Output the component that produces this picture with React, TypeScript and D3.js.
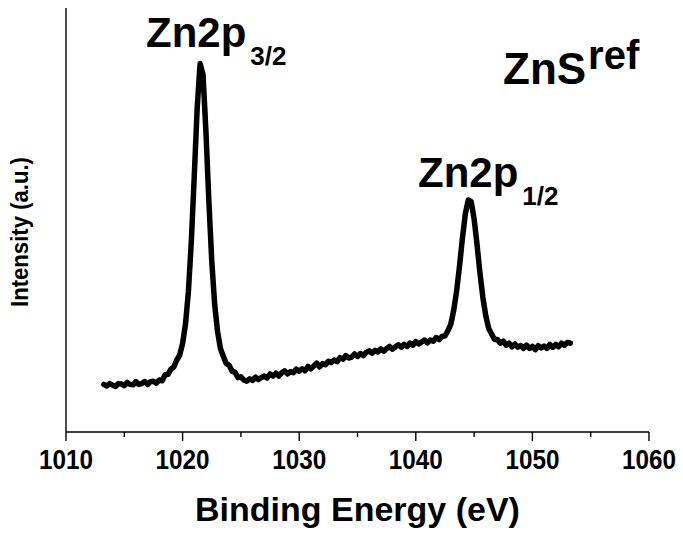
import React from 'react';
import * as d3 from 'd3';

// Binding energy grid (eV)
const energy = [
  1013.25, 1013.5, 1013.75, 1014, 1014.25, 1014.5, 1014.75, 1015, 1015.25, 1015.5,
  1015.75, 1016, 1016.25, 1016.5, 1016.75, 1017, 1017.25, 1017.5, 1017.75, 1018,
  1018.25, 1018.5, 1018.75, 1019, 1019.25, 1019.5, 1019.75, 1020, 1020.25, 1020.5,
  1020.75, 1021, 1021.25, 1021.5, 1021.75, 1022, 1022.25, 1022.5, 1022.75, 1023,
  1023.25, 1023.5, 1023.75, 1024, 1024.25, 1024.5, 1024.75, 1025, 1025.25, 1025.5,
  1025.75, 1026, 1026.25, 1026.5, 1026.75, 1027, 1027.25, 1027.5, 1027.75, 1028,
  1028.25, 1028.5, 1028.75, 1029, 1029.25, 1029.5, 1029.75, 1030, 1030.25, 1030.5,
  1030.75, 1031, 1031.25, 1031.5, 1031.75, 1032, 1032.25, 1032.5, 1032.75, 1033,
  1033.25, 1033.5, 1033.75, 1034, 1034.25, 1034.5, 1034.75, 1035, 1035.25, 1035.5,
  1035.75, 1036, 1036.25, 1036.5, 1036.75, 1037, 1037.25, 1037.5, 1037.75, 1038,
  1038.25, 1038.5, 1038.75, 1039, 1039.25, 1039.5, 1039.75, 1040, 1040.25, 1040.5,
  1040.75, 1041, 1041.25, 1041.5, 1041.75, 1042, 1042.25, 1042.5, 1042.75, 1043,
  1043.25, 1043.5, 1043.75, 1044, 1044.25, 1044.5, 1044.75, 1045, 1045.25, 1045.5,
  1045.75, 1046, 1046.25, 1046.5, 1046.75, 1047, 1047.25, 1047.5, 1047.75, 1048,
  1048.25, 1048.5, 1048.75, 1049, 1049.25, 1049.5, 1049.75, 1050, 1050.25, 1050.5,
  1050.75, 1051, 1051.25, 1051.5, 1051.75, 1052, 1052.25, 1052.5, 1052.75, 1053,
  1053.25,
];

// Intensity (a.u.)
const intensity = [
  119, 115, 121, 117, 114, 121, 120, 116, 124, 119,
  118, 126, 119, 121, 126, 119, 126, 127, 122, 130,
  128, 143, 144, 157, 163, 180, 192, 221, 270, 352,
  477, 640, 809, 921, 894, 752, 579, 428, 319, 251,
  208, 189, 171, 166, 152, 149, 136, 138, 130, 127,
  133, 129, 137, 131, 136, 140, 135, 145, 140, 147,
  140, 148, 153, 145, 151, 148, 157, 152, 158, 153,
  164, 158, 165, 172, 163, 171, 168, 177, 174, 180,
  176, 186, 182, 191, 185, 187, 195, 189, 196, 191,
  199, 203, 197, 204, 200, 208, 202, 209, 214, 207,
  213, 218, 212, 219, 214, 222, 217, 226, 220, 225,
  230, 223, 230, 227, 236, 231, 239, 240, 253, 269,
  304, 352, 415, 485, 546, 580, 576, 533, 469, 398,
  337, 291, 259, 245, 231, 231, 222, 227, 217, 222,
  213, 220, 212, 216, 209, 217, 209, 214, 206, 216,
  210, 215, 209, 219, 212, 219, 213, 222, 217, 224,
  222,
];

const xTicks = [1010, 1020, 1030, 1040, 1050, 1060];
const xMinorTicks = [1015, 1025, 1035, 1045, 1055];
const xDomain: [number, number] = [1010, 1060];
const yDomain: [number, number] = [0, 1060];

const FONT = "'Liberation Sans', Arial, Helvetica, sans-serif";

export default function App() {
  const W = 683;
  const H = 533;
  const left = 66;
  const right = 649;
  const top = 8;
  const bottom = 432;

  const x = d3.scaleLinear().domain(xDomain).range([left, right]);
  const y = d3.scaleLinear().domain(yDomain).range([bottom, top]);

  const line = d3
    .line<number>()
    .x((_, i) => x(energy[i]))
    .y((d) => y(d))
    .curve(d3.curveLinear);
  const path = line(intensity) || '';

  return (
    <svg
      width={W}
      height={H}
      viewBox={`0 0 ${W} ${H}`}
      style={{ position: 'absolute', left: 0, top: 0, background: '#fff' }}
    >
      <rect x={0} y={0} width={W} height={H} fill="#fff" />
      {/* axes */}
      <line x1={left} y1={top} x2={left} y2={bottom} stroke="#000" strokeWidth={1.4} />
      <line x1={left} y1={bottom} x2={right} y2={bottom} stroke="#000" strokeWidth={1.4} />
      {xTicks.map((t) => (
        <line key={'M' + t} x1={x(t)} x2={x(t)} y1={bottom} y2={bottom + 9} stroke="#000" strokeWidth={1.4} />
      ))}
      {xMinorTicks.map((t) => (
        <line key={'m' + t} x1={x(t)} x2={x(t)} y1={bottom} y2={bottom + 5} stroke="#000" strokeWidth={1.4} />
      ))}
      {xTicks.map((t) => (
        <text
          key={'L' + t}
          x={x(t)}
          y={469}
          textAnchor="middle"
          fontFamily={FONT}
          fontWeight="bold"
          fontSize={28}
          textLength={54}
          lengthAdjust="spacingAndGlyphs"
          fill="#000"
        >
          {t}
        </text>
      ))}
      <text
        x={(left + right) / 2}
        y={521}
        textAnchor="middle"
        fontFamily={FONT}
        fontWeight="bold"
        fontSize={34}
        fill="#000"
      >
        Binding Energy (eV)
      </text>
      <text
        transform={`translate(28, 232) rotate(-90)`}
        textAnchor="middle"
        fontFamily={FONT}
        fontWeight="bold"
        fontSize={24}
        textLength={150}
        lengthAdjust="spacingAndGlyphs"
        fill="#000"
      >
        Intensity (a.u.)
      </text>

      {/* spectrum */}
      <path
        d={path}
        fill="none"
        stroke="#000"
        strokeWidth={5.5}
        strokeLinejoin="round"
        strokeLinecap="round"
      />

      {/* annotations */}
      <text x={146} y={47} fontFamily={FONT} fontWeight="bold" fontSize={42} fill="#000">
        Zn2p
        <tspan dx={4} dy={18} fontSize={26}>3/2</tspan>
      </text>
      <text x={418} y={187} fontFamily={FONT} fontWeight="bold" fontSize={42} fill="#000">
        Zn2p
        <tspan dx={4} dy={18} fontSize={26}>1/2</tspan>
      </text>
      <text x={503} y={84} fontFamily={FONT} fontWeight="bold" fontSize={44} fill="#000">
        ZnS
        <tspan dx={2} dy={-15} fontSize={40}>ref</tspan>
      </text>
    </svg>
  );
}
